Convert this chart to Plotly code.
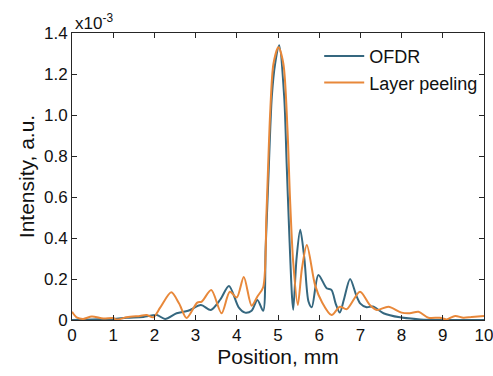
import plotly.graph_objects as go

# OFDR reconstruction (x in mm, intensity in units of 1e-3)
ofdr_x = [0, 0.5, 1.0, 1.33, 1.73, 2.06, 2.26, 2.54, 2.82, 3.13, 3.37, 3.6, 3.81, 4.05, 4.2, 4.36,
          4.5, 4.64, 4.7, 4.765, 4.85, 4.93, 5.03, 5.15, 5.21, 5.27, 5.34, 5.37, 5.45, 5.54, 5.64,
          5.74, 5.82, 5.98, 6.18, 6.3, 6.4, 6.5, 6.6, 6.75, 6.9, 7.0, 7.15, 7.3, 7.56, 7.96, 8.45,
          9.0, 10.0]
ofdr_y = [0.0, 0.003, 0.005, 0.011, 0.015, 0.024, 0.005, 0.033, 0.045, 0.073, 0.049, 0.10, 0.166,
          0.06, 0.036, 0.045, 0.098, 0.045, 0.35, 0.683, 1.09, 1.25, 1.34, 1.09, 0.764, 0.44, 0.114,
          0.05, 0.30, 0.44, 0.30, 0.09, 0.062, 0.22, 0.155, 0.146, 0.08, 0.036, 0.10, 0.20, 0.12,
          0.08, 0.062, 0.066, 0.033, 0.013, 0.003, 0.0, 0.0]

# Layer peeling reconstruction
lp_x = [0, 0.11, 0.27, 0.48, 0.76, 1.0, 1.08, 1.33, 1.65, 1.81, 1.97, 2.14, 2.41, 2.6, 2.78, 3.04,
        3.15, 3.38, 3.63, 3.83, 4.0, 4.17, 4.36, 4.5, 4.64, 4.72, 4.81, 4.89, 5.01, 5.13, 5.23,
        5.29, 5.37, 5.48, 5.58, 5.7, 5.9, 6.06, 6.3, 6.5, 6.67, 6.99, 7.23, 7.4, 7.68, 8.0, 8.2,
        8.41, 8.65, 8.93, 9.09, 9.3, 9.5, 9.7, 10.0]
lp_y = [0.04, 0.013, 0.005, 0.017, 0.007, 0.01, 0.002, 0.013, 0.02, 0.024, 0.013, 0.06, 0.135,
        0.08, 0.01, 0.085, 0.09, 0.146, 0.033, 0.138, 0.11, 0.21, 0.07, 0.115, 0.16, 0.52, 1.01,
        1.25, 1.33, 1.25, 0.93, 0.60, 0.28, 0.073, 0.25, 0.366, 0.17, 0.09, 0.024, 0.065, 0.053,
        0.138, 0.073, 0.049, 0.065, 0.036, 0.033, 0.04, 0.011, 0.011, 0.003, 0.02, 0.011, 0.015,
        0.02]

x_ticks = list(range(0, 11))
y_ticks = [0, 0.2, 0.4, 0.6, 0.8, 1.0, 1.2, 1.4]
y_tick_text = ["0", "0.2", "0.4", "0.6", "0.8", "1.0", "1.2", "1.4"]

FONT = "Liberation Sans, Arial, Helvetica, sans-serif"
AX = "#262626"

fig = go.Figure()
fig.add_trace(go.Scatter(x=ofdr_x, y=ofdr_y, mode="lines", name="OFDR",
                         line=dict(color="#35677f", width=2, shape="spline", smoothing=0.8)))
fig.add_trace(go.Scatter(x=lp_x, y=lp_y, mode="lines", name="Layer peeling",
                         line=dict(color="#e8883a", width=2, shape="spline", smoothing=0.8)))

axis_common = dict(showgrid=False, zeroline=False, showline=True, linecolor=AX, linewidth=1,
                   mirror="ticks", ticks="inside", ticklen=5, tickcolor=AX, tickwidth=1,
                   automargin=False, ticklabeloverflow="allow",
                   tickfont=dict(family=FONT, size=17, color="#111"))

fig.update_xaxes(range=[0, 10], tickvals=x_ticks, ticktext=[str(v) for v in x_ticks],
                 title=dict(text="Position, mm", font=dict(family=FONT, size=21, color="#111"),
                            standoff=4),
                 **axis_common)
fig.update_yaxes(range=[0, 1.4], tickvals=y_ticks, ticktext=y_tick_text,
                 title=dict(text="Intensity, a.u.", font=dict(family=FONT, size=21, color="#111"),
                            standoff=3),
                 **axis_common)

fig.add_annotation(text="x10<sup>-3</sup>", xref="paper", yref="paper", x=0.0, y=1.0,
                   xanchor="left", yanchor="bottom", showarrow=False, xshift=1, yshift=-2,
                   font=dict(family=FONT, size=17, color="#111"))

fig.update_layout(
    width=493, height=376,
    margin=dict(l=72, r=9, t=33, b=56, autoexpand=False),
    plot_bgcolor="white", paper_bgcolor="white",
    font=dict(family=FONT, color="#111"),
    legend=dict(x=0.6, y=0.983, xanchor="left", yanchor="top", bgcolor="rgba(0,0,0,0)",
                font=dict(family=FONT, size=18, color="#111"), itemwidth=40),
)

# remove the default 8px page margin so the figure fills the window exactly
fig.write_html("out.html", config={"displayModeBar": False},
               post_script="document.body.style.margin='0';document.body.style.overflow='hidden';")
